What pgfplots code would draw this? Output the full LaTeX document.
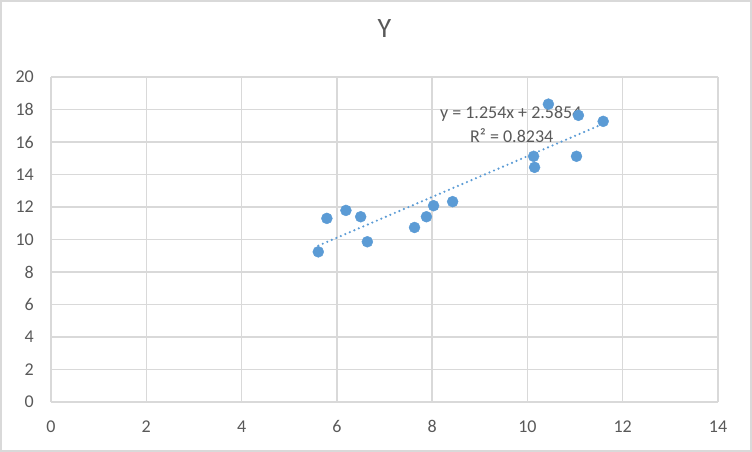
\documentclass[border=0pt]{standalone}
\usepackage{pgfplots}
\pgfplotsset{compat=1.18}
\usepackage{fontspec}
\setmainfont{Carlito}
\definecolor{ptblue}{HTML}{5B9BD5}
\definecolor{txtgray}{HTML}{595959}
\definecolor{gridgray}{HTML}{D9D9D9}
\begin{document}
\begin{tikzpicture}[x=1pt,y=1pt]
\draw[color=gridgray, line width=1.6pt] (0.8,0.8) rectangle (751.2,451.2);
\begin{axis}[
  at={(51pt,50pt)}, anchor=south west,
  scale only axis, width=667pt, height=325pt,
  xmin=0, xmax=14, ymin=0, ymax=20,
  xtick={0,2,...,14}, ytick={0,2,...,20},
  grid=major,
  major grid style={color=gridgray, line width=1.4pt},
  axis line style={draw=none},
  axis x line*=bottom, axis y line*=left,
  x axis line style={draw=gridgray, line width=1.4pt},
  major tick length=0pt,
  tick style={draw=none},
  /pgf/number format/assume math mode=true,
  ticklabel style={font=\fontsize{18}{20}\selectfont, text=txtgray, inner sep=0pt},
  xticklabel style={anchor=center, yshift=-24.5pt},
  yticklabel style={anchor=east, xshift=-17pt},
  title={Y},
  title style={at={(axis description cs:0.5,1.13)}, anchor=center, font=\fontsize{28}{30}\selectfont, text=txtgray},
  clip=false,
]
\addplot[only marks, mark=*, mark size=5.5pt, mark options={fill=ptblue, draw=ptblue}] coordinates {
(5.61,9.24) (5.79,11.30) (6.19,11.79) (6.50,11.40) (6.64,9.86)
(7.63,10.74) (7.88,11.40) (8.03,12.08) (8.43,12.33) (10.13,15.12)
(10.15,14.44) (10.44,18.33) (11.07,17.64) (11.03,15.12) (11.59,17.27)
};
\addplot[color=ptblue, line width=2.4pt, dash pattern=on 0pt off 4.9pt, line cap=round] coordinates {
(5.61,9.62) (11.59,17.12)
};
\node[text=txtgray, font=\fontsize{18}{20}\selectfont, inner sep=0pt] at (axis cs:9.65,17.71) {y = 1.254x + 2.5854};
\node[text=txtgray, font=\fontsize{18}{20}\selectfont, inner sep=0pt] at (axis cs:9.67,16.38) {R² = 0.8234};
\end{axis}
\end{tikzpicture}
\end{document}
